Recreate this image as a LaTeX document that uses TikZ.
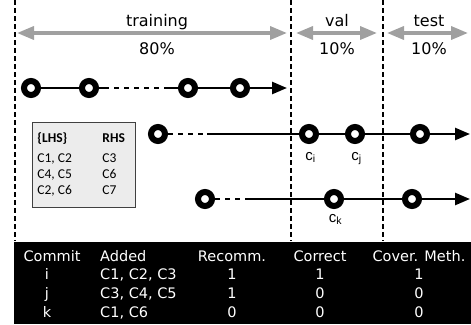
\documentclass[tikz,border=0pt]{standalone}
\usepackage{fontspec}
\setmainfont{DejaVu Sans}
\newfontfamily\rulefont{Carlito}
\newfontfamily\labfont{Liberation Sans}
\usepackage{tikz}
\usetikzlibrary{arrows.meta,positioning}

\definecolor{splitgray}{RGB}{160,160,160}
\definecolor{rulegray}{RGB}{236,236,236}

\begin{document}
\begin{tikzpicture}[x=1pt,y=-1pt]
\tikzset{
  commit/.style={circle, draw, line width=6pt, fill=white, minimum size=14pt, inner sep=0pt},
  history/.style={line width=2.5pt},
  gapline/.style={line width=2.5pt, dash pattern=on 5pt off 5pt, dash phase=5pt},
  future/.style={line width=2.5pt, -{Triangle[length=15pt,width=12pt]}},
  split/.style={line width=3.5pt, splitgray, {Triangle[length=17pt,width=13pt]}-{Triangle[length=17pt,width=13pt]}},
  splitline/.style={line width=1.2pt, dash pattern=on 5pt off 3pt},
  splitlabel/.style={font=\fontsize{16}{19}\selectfont, inner sep=0pt, anchor=base},
  cname/.style={font=\labfont\fontsize{15}{17}\selectfont, inner sep=1pt, below=#1},
  cell/.style={white, font=\fontsize{14.5}{17}\selectfont, inner sep=0pt, anchor=base},
}
\useasboundingbox (0,0) rectangle (471,324);

% data split
\foreach \x in {15,291,383}
  \draw[splitline] (\x,0) -- (\x,241);

\coordinate (trainL) at (17,33);  \coordinate (trainR) at (287,33);
\coordinate (valL) at (296,33);   \coordinate (valR) at (377,33);
\coordinate (testL) at (387,33);  \coordinate (testR) at (468,33);
\draw[split] (trainL) -- (trainR);
\draw[split] (valL) -- (valR);
\draw[split] (testL) -- (testR);

\node[splitlabel] (train) at (157,27) {training};
\node[splitlabel] (trainPct) at (157,54) {80\%};
\node[splitlabel] (val) at (337,27) {val};
\node[splitlabel] (valPct) at (337,54) {10\%};
\node[splitlabel] (test) at (429,27) {test};
\node[splitlabel] (testPct) at (429,54) {10\%};

% commit histories
\node[commit] (a1) at (31,88) {};
\node[commit] (a2) at (89,88) {};
\node[commit] (a3) at (188,88) {};
\node[commit] (a4) at (240,88) {};
\coordinate (aGapL) at (109,88); \coordinate (aGapR) at (167,88);
\coordinate (aEnd) at (287,88);
\draw[history] (a1) -- (a2) -- (aGapL);
\draw[gapline] (aGapL) -- (aGapR);
\draw[history] (aGapR) -- (a3) -- (a4);
\draw[future] (a4) -- (aEnd);

\node[commit] (b1) at (158,134) {};
\node[commit] (ci) at (309,134) {};
\node[commit] (cj) at (355,134) {};
\node[commit] (b4) at (420,134) {};
\coordinate (bGapR) at (207,134); \coordinate (bEnd) at (470,134);
\draw[gapline, dash phase=0pt] (b1) -- (bGapR);
\draw[history] (bGapR) -- (ci) -- (cj) -- (b4);
\draw[future] (b4) -- (bEnd);

\node[commit] (c1) at (205,199) {};
\node[commit] (ck) at (334,199) {};
\node[commit] (c3) at (412,199) {};
\coordinate (cGapR) at (249,199); \coordinate (cEnd) at (470,199);
\draw[gapline, dash phase=0pt] (c1) -- (cGapR);
\draw[history] (cGapR) -- (ck) -- (c3);
\draw[future] (c3) -- (cEnd);

\node[cname=7pt of ci, xshift=1.5pt] (ciName) {c\textsubscript{i}};
\node[cname=7pt of cj, xshift=1.5pt] (cjName) {c\textsubscript{j}};
\node[cname=4pt of ck, xshift=1.5pt] (ckName) {c\textsubscript{k}};

% mined rules
\node[draw=black!75, fill=rulegray, line width=0.8pt, anchor=north west,
      minimum width=103pt, minimum height=85pt, inner sep=0pt,
      font=\rulefont\fontsize{13.5}{16}\selectfont] (rules) at (32,122)
  {\begin{tabular}{@{}p{65pt}@{}p{28pt}@{}}
    \textbf{\{LHS\}} & \textbf{RHS}\\[4pt]
    C1, C2 & C3\\
    C4, C5 & C6\\
    C2, C6 & C7
  \end{tabular}};

% evaluation table
\fill (14,242) rectangle (471,324);
\node[cell] (whoHead) at (52,261) {Commit};
\node[cell, anchor=base west] (addedHead) at (100,261) {Added};
\node[cell] (recommHead) at (232,261) {Recomm.};
\node[cell] (correctHead) at (320,261) {Correct};
\node[cell] (coverHead) at (419,261) {Cover. Meth.};
\foreach[count=\k] \who/\added/\recomm/\correct/\cover in
  {i/{C1, C2, C3}/1/1/1,
   j/{C3, C4, C5}/1/0/0,
   k/{C1, C6}/0/0/0}
{
  \node[cell] (who\k) at (47,261+18.7*\k) {\who};
  \node[cell, anchor=base west] (added\k) at (100,261+18.7*\k) {\added};
  \node[cell] (recomm\k) at (232,261+18.7*\k) {\recomm};
  \node[cell] (correct\k) at (320,261+18.7*\k) {\correct};
  \node[cell] (cover\k) at (419,261+18.7*\k) {\cover};
}
\end{tikzpicture}
\end{document}
